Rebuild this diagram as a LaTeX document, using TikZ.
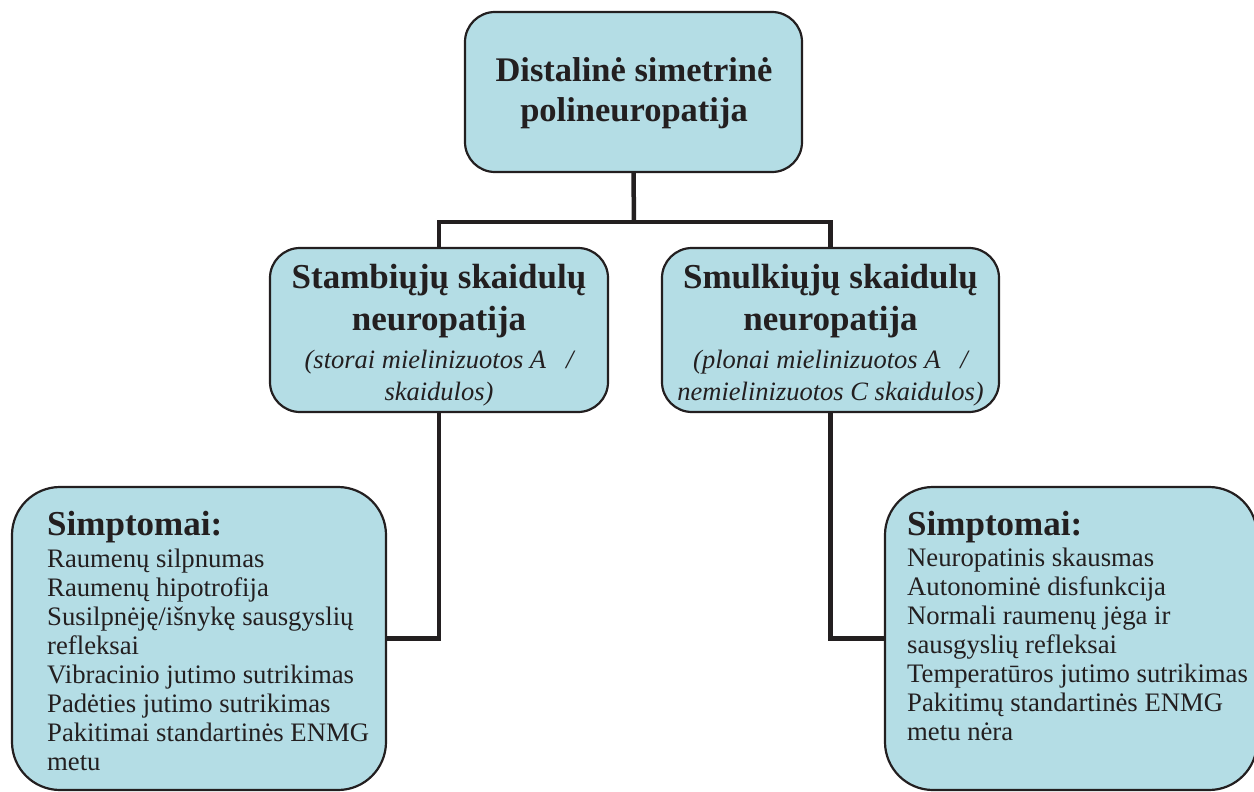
\documentclass[tikz,border=0pt]{standalone}
\usepackage{fontspec}
\setmainfont{Liberation Serif}
\definecolor{boxblue}{RGB}{180,221,229}
\definecolor{ink}{RGB}{35,31,32}
\tikzset{
  box/.style={draw=ink, line width=2.2bp, fill=boxblue, inner sep=0pt},
  conn/.style={draw=ink, line width=4.5bp},
  titletext/.style={align=center, text=ink, inner sep=0pt, anchor=base, font=\bfseries\fontsize{34.5bp}{40bp}\selectfont},
  midtext/.style={align=center, text=ink, inner sep=0pt, anchor=base, font=\bfseries\fontsize{35bp}{42bp}\selectfont},
  subtext/.style={align=center, text=ink, inner sep=0pt, anchor=base, font=\itshape\fontsize{26.5bp}{32bp}\selectfont},
  listtext/.style={align=left, text=ink, inner sep=0pt, anchor=base west, font=\fontsize{26.7bp}{29bp}\selectfont},
  headtext/.style={text=ink, inner sep=0pt, anchor=base west, font=\bfseries\fontsize{35bp}{40bp}\selectfont}
}
\begin{document}
\begin{tikzpicture}[x=1bp,y=-1bp]
\useasboundingbox (0,0) rectangle (1254,792);
% boxes
\node[box, rounded corners=30bp, minimum width=337bp, minimum height=160bp] (top) at (633.5,92) {};
\node[box, rounded corners=30bp, minimum width=338bp, minimum height=164bp] (ml) at (439,330) {};
\node[box, rounded corners=30bp, minimum width=337bp, minimum height=164bp] (mr) at (830.5,330) {};
\node[box, rounded corners=48bp, minimum width=374bp, minimum height=303bp] (ls) at (199,638.5) {};
\node[box, rounded corners=48bp, minimum width=372bp, minimum height=303bp] (rs) at (1071,638.5) {};
% texts (anchored at the baseline of their last line)
\node[titletext] (toptxt) at (634,122) {Distalinė simetrinė\\polineuropatija};
\node[midtext] (mlt) at (439,330) {Stambiųjų skaidulų\\neuropatija};
\node[subtext] (mls) at (439,400) {(storai mielinizuotos A \ \ /\\skaidulos)};
\node[midtext] (mrt) at (830.5,330) {Smulkiųjų skaidulų\\neuropatija};
\node[subtext] (mrs) at (830.5,400) {(plonai mielinizuotos A \ \ /\\nemielinizuotos C skaidulos)};
\node[headtext] (lh) at (47,535) {Simptomai:};
\node[listtext] (ll) at (47,770) {Raumenų silpnumas\\Raumenų hipotrofija\\Susilpnėję/išnykę sausgyslių\\refleksai\\Vibracinio jutimo sutrikimas\\Padėties jutimo sutrikimas\\Pakitimai standartinės ENMG\\metu};
\node[headtext] (rh) at (907,535) {Simptomai:};
\node[listtext] (rl) at (907,740) {Neuropatinis skausmas\\Autonominė disfunkcija\\Normali raumenų jėga ir\\sausgyslių refleksai\\Temperatūros jutimo sutrikimas\\Pakitimų standartinės ENMG\\metu nėra};
% connectors
\coordinate (j) at (634,222);
\draw[conn] (top.south) -- (j);
\draw[conn] (ml.north) |- (j) -| (mr.north);
\draw[conn] (ml.south) |- (ls.east);
\draw[conn] (mr.south) |- (rs.west);
\end{tikzpicture}
\end{document}
